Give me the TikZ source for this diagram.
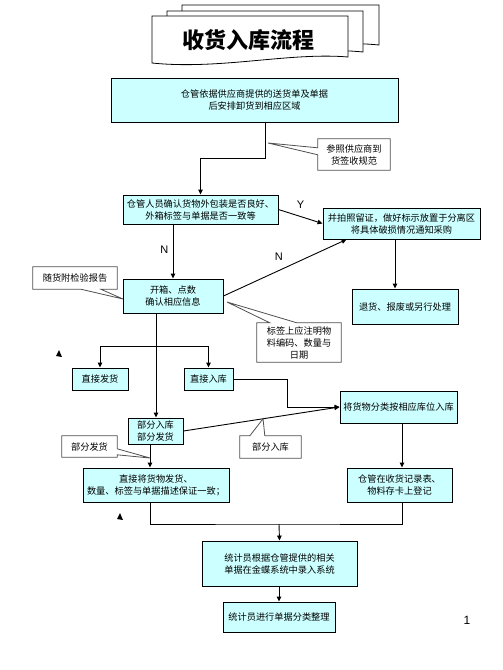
\documentclass[tikz,border=0pt]{standalone}
\usepackage{fontspec}
\setmainfont{Noto Sans CJK SC}
\newfontfamily\latinfont{Liberation Sans}
\usepackage{xcolor}
\usetikzlibrary{positioning,arrows.meta,calc}
\definecolor{boxcyan}{HTML}{CCFFFF}
\definecolor{noteline}{HTML}{505050}
\tikzset{
    flowbox/.style={
        draw=black, fill=boxcyan, line width=0.9pt,
        inner sep=1pt, font=\fontsize{9.2}{12}\selectfont, align=center
    },
    notetext/.style={
        inner sep=1pt, font=\fontsize{9.2}{12}\selectfont, align=center
    },
    callout/.style={draw=noteline, fill=white, line width=0.8pt},
    scroll/.style={draw=black, fill=white, line width=0.8pt},
    arrow/.style={-{Triangle[length=5pt,width=4.5pt]}, line width=0.9pt},
    line/.style={line width=0.9pt},
    yn/.style={font=\latinfont\fontsize{11}{13}\selectfont},
}

\begin{document}
\begin{tikzpicture}[x=1pt, y=-1pt]
    \useasboundingbox (0,0) rectangle (503,670);
    % title scroll
    \draw[scroll] (182,5) -- (379,5) -- (379,45) .. controls (320,39) and (260,55) .. (182,50) -- cycle;
    \draw[scroll] (167,11) -- (363,11) -- (363,52) .. controls (305,46) and (245,62) .. (167,57) -- cycle;
    \draw[scroll] (152,16) -- (348,16) -- (348,57) .. controls (290,52) and (220,70) .. (152,63) -- cycle;
    \node[font=\bfseries\fontsize{22}{26}\selectfont] (title) at (248,40) {收货入库流程};

    % flow boxes
    \node[flowbox, minimum width=287, minimum height=44] (recv) at (254.5,100) {仓管依据供应商提供的送货单及单据\\后安排卸货到相应区域};
    \node[flowbox, minimum width=155, minimum height=29] (check) at (200.5,209.5) {仓管人员确认货物外包装是否良好、\\外箱标签与单据是否一致等};
    \node[flowbox, minimum width=157, minimum height=31] (photo) at (401.5,223.5) {并拍照留证，做好标示放置于分离区\\将具体破损情况通知采购};
    \node[flowbox, minimum width=100, minimum height=34] (open) at (173,296) {开箱、点数\\确认相应信息};
    \node[flowbox, minimum width=106, minimum height=35] (retn) at (405,306.5) {退货、报废或另行处理};
    \node[flowbox, minimum width=56, minimum height=22] (ship) at (100,379) {直接发货};
    \node[flowbox, minimum width=49, minimum height=22] (stock) at (208.5,379) {直接入库};
    \node[flowbox, minimum width=55, minimum height=26] (part) at (155.5,431) {部分入库\\部分发货};
    \node[flowbox, minimum width=117, minimum height=32] (sort) at (398.5,407) {将货物分类按相应库位入库};
    \node[flowbox, minimum width=146, minimum height=34] (send) at (156,485) {直接将货物发货、\\数量、标签与单据描述保证一致；};
    \node[flowbox, minimum width=105, minimum height=34] (log) at (399.5,485) {仓管在收货记录表、\\物料存卡上登记};
    \node[flowbox, minimum width=155, minimum height=45] (entry) at (279.5,563.5) {统计员根据仓管提供的相关\\单据在金蝶系统中录入系统};
    \node[flowbox, minimum width=112, minimum height=30] (file) at (279,617) {统计员进行单据分类整理};

    % joints
    \coordinate (j1) at (265,158);
    \coordinate (j2) at (156,346);
    \coordinate (j3) at (287,407);
    \coordinate (j4) at (279,524);

    % connectors
    \draw[arrow] (recv.south -| j1) -- (j1) -| (check.north);
    \draw[arrow] (check.east) -- (photo.west) node[yn, midway, above=4pt] {Y};
    \draw[arrow] (check.south -| open.north) -- (open.north) node[yn, pos=.47, left=1pt] {N};
    \draw[arrow] (open.east) -- ($(photo.south west)+(24,0)$) node[yn, pos=.45, above=6pt] {N};
    \draw[arrow] ([xshift=-6.5pt]photo.south) -- ([xshift=-6.5pt]photo.south |- retn.north);
    \draw[arrow] (open.south -| j2) -- (j2 |- part.north);
    \draw[arrow] (j2) -| (ship.north);
    \draw[arrow] (j2) -| (stock.north);
    \draw[arrow] (stock.east) -| (j3) -- (sort.west);
    \draw[arrow] (part.east) -- (sort.west);
    \draw[arrow] ([xshift=-5.5pt]part.south) -- ([xshift=-5.5pt]part.south |- send.north);
    \draw[arrow] ([xshift=3.5pt]sort.south) -- ([xshift=3.5pt]sort.south |- log.north);
    \draw[line] ([xshift=-6pt]send.south) |- (j4) -| ([xshift=2.5pt]log.south);
    \draw[arrow] (j4) -- (entry.north);
    \draw[arrow] (entry.south -| file.north) -- (file.north);

    % callout tips
    \coordinate (t1) at (268,143);
    \coordinate (t2) at (123,299);
    \coordinate (t3) at (227,302);
    \coordinate (t4) at ($(part.east)!0.51!(sort.west)$);
    \coordinate (t5) at (150,458);

    % callouts
    \node[notetext, minimum width=72, minimum height=31] (n1) at (354,154.5) {参照供应商到\\货签收规范};
    \draw[callout] (n1.north west) -- (n1.north east) -- (n1.south east) -- (n1.south west)
        -- ($(n1.north west)+(0,16)$) -- (t1) -- ($(n1.north west)+(0,9)$) -- cycle;
    \node[notetext] at (n1) {参照供应商到\\货签收规范};

    \node[notetext, minimum width=84, minimum height=22] (n2) at (75,278) {随货附检验报告};
    \draw[callout] (n2.north west) -- (n2.north east) -- (n2.south east) -- ($(n2.south west)+(68,0)$)
        -- (t2) -- ($(n2.south west)+(48,0)$) -- (n2.south west) -- cycle;
    \node[notetext] at (n2) {随货附检验报告};

    \node[notetext, minimum width=84, minimum height=39] (n3) at (299,342.5) {标签上应注明物\\料编码、数量与\\日期};
    \draw[callout] (n3.north west) -- ($(n3.north west)+(13,0)$) -- (t3) -- ($(n3.north west)+(40,0)$)
        -- (n3.north east) -- (n3.south east) -- (n3.south west) -- cycle;
    \node[notetext] at (n3) {标签上应注明物\\料编码、数量与\\日期};

    \node[notetext, minimum width=61, minimum height=22] (n4) at (270.5,447) {部分入库};
    \draw[callout] (n4.north west) -- ($(n4.north west)+(10,0)$) -- (t4) -- ($(n4.north west)+(25,0)$)
        -- (n4.north east) -- (n4.south east) -- (n4.south west) -- cycle;
    \node[notetext] at (n4) {部分入库};

    \node[notetext, minimum width=55, minimum height=21] (n5) at (89.5,446.5) {部分发货};
    \draw[callout] (n5.north west) -- (n5.north east) -- ($(n5.north east)+(0,13)$) -- (t5)
        -- ($(n5.north east)+(0,19)$) -- (n5.south east) -- (n5.south west) -- cycle;
    \node[notetext] at (n5) {部分发货};

    % stray marks
    \fill (56,356) -- (59,350) -- (62,357) -- cycle;
    \fill (117,519) -- (120,513) -- (123,520) -- cycle;

    % page number
    \node[font=\latinfont\fontsize{12}{14}\selectfont] (page) at (467,620) {1};
\end{tikzpicture}
\end{document}
